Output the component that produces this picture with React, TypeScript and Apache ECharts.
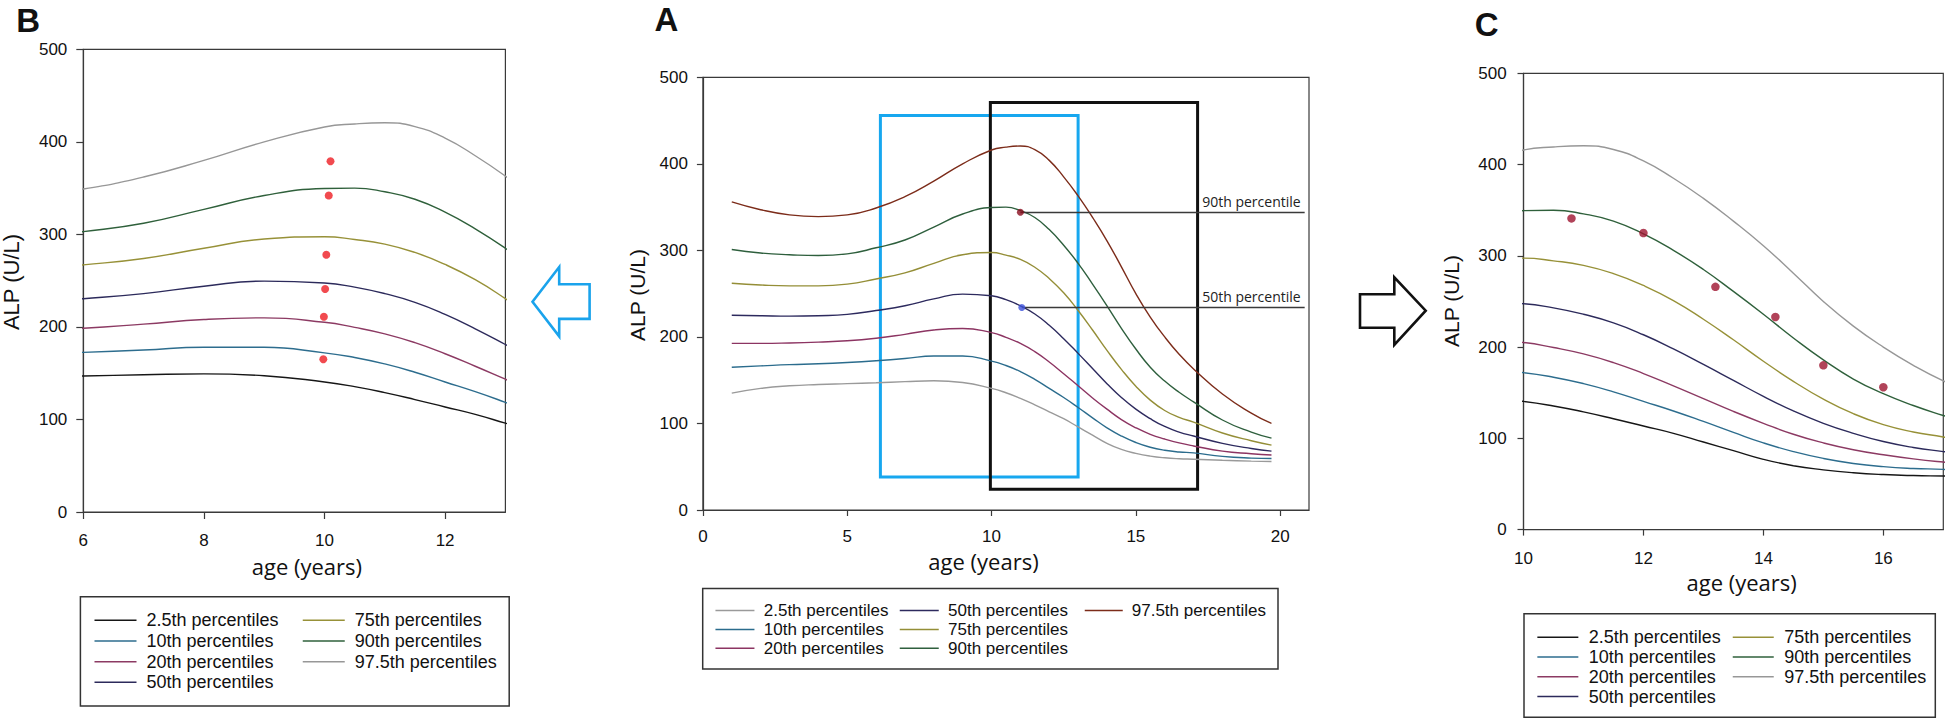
import React, { useEffect, useRef } from "react";
import * as echarts from "echarts";

// ---- data ----
const AGES = [1, 2, 3, 4, 5, 6, 7, 8, 9, 10, 10.5, 11, 11.5, 12, 12.5, 13, 13.5, 14, 14.5, 15, 15.5, 16, 16.5, 17, 18, 19, 19.7];
const P2_5 = [135, 140.5, 143.5, 145, 146, 147, 148.3, 149.3, 147.3, 140.5, 135.5, 129, 121.5, 113.5, 105.5, 96, 86.5, 77, 70, 65.5, 62.3, 60.3, 59.2, 58.7, 57.5, 56.5, 56];
const P10 = [165, 166.5, 168, 169, 170.5, 172.5, 175, 178, 178, 172, 167, 160, 151, 140.5, 130, 118.5, 106.5, 95, 85.5, 78, 72.5, 69, 67, 66, 62, 60, 59.5];
const P20 = [192.5, 192.5, 193, 194, 195.5, 198.5, 203, 208, 209.8, 205, 199.5, 192.5, 183, 171, 157.5, 143.5, 129.5, 116.5, 104.5, 95, 87.5, 82, 77.5, 74, 68, 65, 63.5];
const P50 = [225, 224.5, 224, 224.5, 226, 230.5, 236, 244, 249.5, 247.5, 243, 236, 226.5, 213.5, 198, 181, 163.5, 146, 130, 116.5, 105.5, 96.5, 90, 85.5, 77, 71, 68];
const P75 = [262, 260, 259, 259, 261, 267, 274, 285, 295, 297.5, 294.5, 289.5, 280.5, 267.5, 251, 230.5, 208, 184.5, 162.5, 143, 127, 115, 107, 101.5, 89, 80, 75];
const P90 = [301, 297, 295, 294, 296, 303, 312, 327, 342, 349.5, 350, 346, 338, 324, 306, 285, 261, 236, 210, 186, 165, 149, 136, 125, 104, 90, 83];
const P97_5 = [356, 347, 341, 339, 341, 349, 362, 380, 400, 416, 419.3, 420.6, 416.5, 404, 385, 363, 338, 311, 281, 250, 223, 200, 180, 163, 134, 112, 100];

const LABELS = ["2.5th percentiles", "10th percentiles", "20th percentiles", "50th percentiles", "75th percentiles", "90th percentiles", "97.5th percentiles"];
const SERIES_VALUES = [P2_5, P10, P20, P50, P75, P90, P97_5];

const B_DOTS = [[10.1, 379], [10.07, 342], [10.03, 278], [10.01, 241], [9.99, 211], [9.98, 165]];
const C_DOTS = [[10.8, 341], [12, 325], [13.2, 266], [14.2, 233], [15, 180], [16, 156]];
const A_DOT_90 = [[11.0, 344]];
const A_DOT_50 = [[11.05, 234]];
const REF_LINE_END = 20.85;
const BLUE_BOX = [[6.15, 38], [13.0, 456]];
const BLACK_BOX = [[9.96, 24], [17.14, 471]];

const B_XTICKS = [6, 8, 10, 12];
const A_XTICKS = [0, 5, 10, 15, 20];
const C_XTICKS = [10, 12, 14, 16];
const Y_TICKS = [0, 100, 200, 300, 400, 500];

// ---- styles ----
const COLORS_A = ["#9a9a9a", "#2b6c8d", "#8c3462", "#2d2a5e", "#948e37", "#2e5f3d", "#7c2c1a"];
const COLORS_BC = ["#161616", "#2d6d8e", "#8c3a63", "#2c2a5b", "#979138", "#2f603b", "#979797"];
const SANS = "'Liberation Sans', Arial, sans-serif";
const OPEN = "'Open Sans', 'Noto Sans', sans-serif";
const AXIS_COLOR = "#3a3a3a";
const TEXT_COLOR = "#111";

function makeAxes(idx: number, xmin: number, xmax: number, xticks: number[], xMargin: number, yMargin: number, tickLen: number) {
  const x = {
    type: "value", gridIndex: idx, min: xmin, max: xmax,
    axisLine: { show: true, onZero: false, lineStyle: { color: AXIS_COLOR, width: 1.2 } },
    axisTick: { show: true, length: tickLen, customValues: xticks, lineStyle: { color: AXIS_COLOR, width: 1.2 } },
    axisLabel: { show: true, customValues: xticks, margin: xMargin, fontSize: 17, fontFamily: SANS, color: TEXT_COLOR },
    splitLine: { show: false },
  };
  const y = {
    type: "value", gridIndex: idx, min: 0, max: 500, interval: 100,
    axisLine: { show: true, onZero: false, lineStyle: { color: AXIS_COLOR, width: 1.2 } },
    axisTick: { show: true, length: tickLen, customValues: Y_TICKS, lineStyle: { color: AXIS_COLOR, width: 1.2 } },
    axisLabel: { show: true, customValues: Y_TICKS, margin: yMargin, fontSize: 17, fontFamily: SANS, color: TEXT_COLOR },
    splitLine: { show: false },
  };
  return { x, y };
}

function percentileSeries(panel: string, idx: number, colors: string[]) {
  return LABELS.map((label, i) => ({
    type: "line",
    name: `${panel}|${label}`,
    xAxisIndex: idx,
    yAxisIndex: idx,
    data: AGES.map((a, j) => [a, SERIES_VALUES[i][j]]),
    smooth: 0.5,
    symbol: "none",
    showSymbol: false,
    clip: true,
    silent: true,
    lineStyle: { color: colors[i], width: 1.4 },
    itemStyle: { color: colors[i] },
    z: 3,
  }));
}

function legend(panel: string, idxs: number[], left: number, top: number, itemWidth: number, rowH: number, fontSize: number, padLeft: number) {
  return {
    show: true,
    orient: "vertical",
    left, top,
    padding: 0,
    itemWidth,
    itemHeight: rowH,
    itemGap: 0,
    selectedMode: false,
    itemStyle: { opacity: 0, borderWidth: 0 },
    lineStyle: { width: 1.5 },
    data: idxs.map((i) => `${panel}|${LABELS[i]}`),
    formatter: (n: string) => n.split("|")[1],
    textStyle: { fontSize, lineHeight: rowH, fontFamily: SANS, color: TEXT_COLOR, padding: [0, 0, 0, padLeft] },
  };
}

function txt(text: string, x: number, y: number, fontSize: number, fontFamily: string, rotate = false, bold = false) {
  return {
    type: "text", x, y, rotation: rotate ? Math.PI / 2 : 0, silent: true,
    style: {
      text, fontSize, fontFamily, fontWeight: bold ? "bold" : "normal", fill: TEXT_COLOR,
      align: "center", verticalAlign: "middle", textAlign: "center", textVerticalAlign: "middle",
    },
  };
}

function box(x: number, y: number, w: number, h: number) {
  return { type: "rect", silent: true, shape: { x, y, width: w, height: h }, style: { fill: "none", stroke: "#333", lineWidth: 1.5 } };
}

export default function App() {
  const ref = useRef<HTMLDivElement>(null);
  useEffect(() => {
    document.body.style.margin = "0";
    if (!ref.current) return;
    const chart = echarts.init(ref.current, undefined, { renderer: "svg" });

    const bAx = makeAxes(0, 6, 13, B_XTICKS, 19.5, 16, 7);
    const aAx = makeAxes(1, 0, 21, A_XTICKS, 17.5, 15, 6);
    const cAx = makeAxes(2, 10, 17, C_XTICKS, 20.5, 16.8, 6);

    const gridStyle = { show: true, borderColor: AXIS_COLOR, borderWidth: 1.2, backgroundColor: "transparent", containLabel: false, outerBoundsMode: "none" };

    const option: any = {
      animation: false,
      backgroundColor: "#ffffff",
      grid: [
        { left: 83.3, top: 49.3, width: 422.1, height: 462.7, ...gridStyle },
        { left: 702.9, top: 77.3, width: 606.1, height: 432.7, ...gridStyle },
        { left: 1523.5, top: 73.3, width: 419.8, height: 456.3, ...gridStyle },
      ],
      xAxis: [bAx.x, aAx.x, cAx.x],
      yAxis: [bAx.y, aAx.y, cAx.y],
      legend: [
        legend("B", [0, 1, 2, 3], 93.75, 610, 42, 20.67, 18, 5),
        legend("B", [4, 5, 6], 302, 610, 42, 20.67, 18, 5),
        legend("A", [0, 1, 2], 714.7, 601.1, 39, 18.9, 17, 4.3),
        legend("A", [3, 4, 5], 899, 601.1, 39, 18.9, 17, 4.3),
        legend("A", [6], 1084, 601.1, 38, 18.9, 17, 4),
        legend("C", [0, 1, 2, 3], 1536.6, 627.3, 41, 19.8, 18, 5.4),
        legend("C", [4, 5, 6], 1732, 627.3, 41, 19.8, 18, 5.5),
      ],
      series: [
        ...percentileSeries("B", 0, COLORS_BC),
        ...percentileSeries("A", 1, COLORS_A),
        ...percentileSeries("C", 2, COLORS_BC),
        {
          type: "scatter", name: "B dots", xAxisIndex: 0, yAxisIndex: 0, data: B_DOTS,
          symbol: "circle", symbolSize: 8, itemStyle: { color: "#ee1d23" }, silent: true, z: 5,
        },
        {
          type: "scatter", name: "C dots", xAxisIndex: 2, yAxisIndex: 2, data: C_DOTS,
          symbol: "circle", symbolSize: 8.5, itemStyle: { color: "#9e1430" }, silent: true, z: 5,
        },
        {
          type: "scatter", name: "A 90th point", xAxisIndex: 1, yAxisIndex: 1, data: A_DOT_90,
          symbol: "circle", symbolSize: 7, itemStyle: { color: "#8a0c1e" }, silent: true, z: 5,
          markLine: {
            silent: true, symbol: ["none", "none"], animation: false,
            lineStyle: { color: "#3a3a3a", width: 1.3, type: "solid" },
            label: { show: true, position: "insideEndTop", formatter: "90th percentile", fontFamily: OPEN, fontSize: 14, color: "#222", distance: 4 },
            data: [[{ coord: A_DOT_90[0] }, { coord: [REF_LINE_END, A_DOT_90[0][1]] }]],
          },
          markArea: {
            silent: true,
            label: { show: false },
            data: [
              [{ coord: BLUE_BOX[0], itemStyle: { color: "rgba(0,0,0,0)", borderColor: "#17a7ef", borderWidth: 3 } }, { coord: BLUE_BOX[1] }],
              [{ coord: BLACK_BOX[0], itemStyle: { color: "rgba(0,0,0,0)", borderColor: "#111111", borderWidth: 3 } }, { coord: BLACK_BOX[1] }],
            ],
          },
        },
        {
          type: "scatter", name: "A 50th point", xAxisIndex: 1, yAxisIndex: 1, data: A_DOT_50,
          symbol: "circle", symbolSize: 7, itemStyle: { color: "#3d52dc" }, silent: true, z: 5,
          markLine: {
            silent: true, symbol: ["none", "none"], animation: false,
            lineStyle: { color: "#3a3a3a", width: 1.3, type: "solid" },
            label: { show: true, position: "insideEndTop", formatter: "50th percentile", fontFamily: OPEN, fontSize: 14, color: "#222", distance: 4 },
            data: [[{ coord: A_DOT_50[0] }, { coord: [REF_LINE_END, A_DOT_50[0][1]] }]],
          },
        },
      ],
      graphic: [
        txt("B", 28.2, 20, 33, SANS, false, true),
        txt("A", 666.3, 19, 33, SANS, false, true),
        txt("C", 1486.6, 24.5, 33, SANS, false, true),
        txt("age (years)", 306.9, 566, 22, OPEN),
        txt("ALP (U/L)", 11, 282, 22, SANS, true),
        txt("age (years)", 983.5, 561.3, 22, OPEN),
        txt("ALP (U/L)", 637.5, 295, 21, SANS, true),
        txt("age (years)", 1741.6, 581.6, 22, OPEN),
        txt("ALP (U/L)", 1451.7, 301, 21, SANS, true),
        box(80.4, 596.8, 428.8, 109.2),
        box(702.7, 588.5, 575.3, 80.5),
        box(1524, 613.8, 411.3, 103.5),
        {
          type: "polygon", silent: true,
          shape: { points: [[532.5, 301.8], [559.2, 267], [559.2, 284.3], [589.6, 284.3], [589.6, 318.9], [559.2, 318.9], [559.2, 336.4]] },
          style: { fill: "none", stroke: "#1aa3ec", lineWidth: 2.6, lineJoin: "miter" },
        },
        {
          type: "polygon", silent: true,
          shape: { points: [[1360, 294.3], [1394.3, 294.3], [1394.3, 277.3], [1425.7, 310.7], [1394.3, 345], [1394.3, 327.7], [1360, 327.7]] },
          style: { fill: "none", stroke: "#111", lineWidth: 2.6, lineJoin: "miter" },
        },
      ],
    };

    chart.setOption(option);
    return () => chart.dispose();
  }, []);

  return <div ref={ref} style={{ position: "absolute", left: 0, top: 0, width: 1946, height: 719 }} />;
}
